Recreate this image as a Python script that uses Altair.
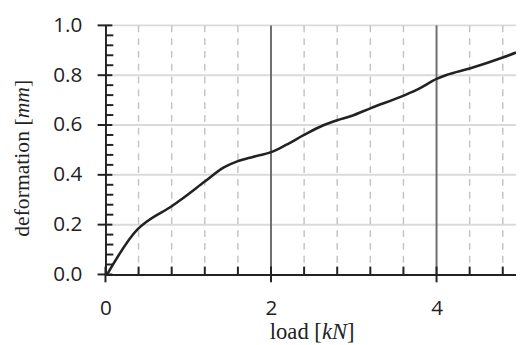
import altair as alt
import pandas as pd

# ---- data ----
load_kn = [0.02, 0.39, 0.51, 0.80, 0.91, 1.20, 1.43, 1.60, 1.78, 2.00, 2.18, 2.40,
           2.62, 2.80, 2.97, 3.20, 3.61, 3.79, 4.00, 4.12, 4.40, 4.80, 4.96]
deformation_mm = [0.0, 0.182, 0.215, 0.274, 0.300, 0.373, 0.430, 0.455, 0.472, 0.491,
                  0.520, 0.560, 0.597, 0.619, 0.636, 0.667, 0.719, 0.746, 0.785, 0.801,
                  0.827, 0.871, 0.891]

x_major = [0, 2, 4]
x_minor = [0.4, 0.8, 1.2, 1.6, 2.4, 2.8, 3.2, 3.6, 4.4, 4.8]
y_major = [0.0, 0.2, 0.4, 0.6, 0.8, 1.0]
y_minor = [0.04, 0.08, 0.12, 0.16, 0.24, 0.28, 0.32, 0.36, 0.44, 0.48, 0.52, 0.56,
           0.64, 0.68, 0.72, 0.76, 0.84, 0.88, 0.92, 0.96]
y_grid = [0.2, 0.4, 0.6, 0.8, 1.0]

W, H = 417, 253
X_DOMAIN = [0, 4.96]
Y_DOMAIN = [0, 1.0]

curve = pd.DataFrame({"load": load_kn, "deformation": deformation_mm})
xs = alt.Scale(domain=X_DOMAIN, nice=False, zero=False)
ys = alt.Scale(domain=Y_DOMAIN, nice=False)

TICK_FONT = "Open Sans"
SERIF = "Liberation Serif"
DARK = "#222222"

XAX = alt.Axis(values=x_major, grid=False, ticks=False, domain=True,
               domainColor=DARK, domainWidth=2, labelFont=TICK_FONT,
               labelFontSize=21, labelColor=DARK, labelPadding=24,
               labelFlush=False, title=None, zindex=1, format="d")
YAX = alt.Axis(values=y_major, grid=False, ticks=False, domain=True,
               domainColor=DARK, domainWidth=2, labelFont=TICK_FONT,
               labelFontSize=21, labelColor=DARK, labelPadding=24,
               labelFlush=False, title=None, zindex=1, format=".1f")


def frame(name, vals):
    return pd.DataFrame({name: vals})


def X(f):
    return alt.X(f, type="quantitative", scale=xs, axis=XAX)


def Y(f):
    return alt.Y(f, type="quantitative", scale=ys, axis=YAX)


# grid
hgrid = alt.Chart(frame("v", y_grid)).mark_rule(color="#dadada", strokeWidth=2).encode(y=Y("v"))
vdash = alt.Chart(frame("v", x_minor)).mark_rule(color="#c4c4c4", strokeWidth=1.5,
                                                strokeDash=[7, 6]).encode(x=X("v"))
vmajor = alt.Chart(frame("v", [2, 4])).mark_rule(color="#6e6e6e", strokeWidth=2).encode(x=X("v"))

# main curve
line = alt.Chart(curve).mark_line(color=DARK, strokeWidth=2.6, interpolate="monotone").encode(
    x=X("load"), y=Y("deformation"))

# ticks
xmaj_t = alt.Chart(frame("v", x_major)).mark_rule(color=DARK, strokeWidth=2).encode(
    x=X("v"), y=alt.value(H - 8), y2=alt.value(H + 8))
xmin_t = alt.Chart(frame("v", x_minor)).mark_rule(color=DARK, strokeWidth=2).encode(
    x=X("v"), y=alt.value(H - 8), y2=alt.value(H))
ymaj_t = alt.Chart(frame("v", y_major)).mark_rule(color=DARK, strokeWidth=2).encode(
    y=Y("v"), x=alt.value(-8), x2=alt.value(7))
ymin_t = alt.Chart(frame("v", y_minor)).mark_rule(color=DARK, strokeWidth=2).encode(
    y=Y("v"), x=alt.value(0), x2=alt.value(8))

# titles with italic units (Times-compatible widths, per em)
REG = {"l": .278, "o": .5, "a": .444, "d": .5, " ": .25, "[": .333, "]": .333,
       "e": .444, "f": .333, "r": .333, "m": .778, "t": .278, "i": .278, "n": .5}
ITA = {"k": .444, "N": .667, "m": .722}


def em(s, italic, fs):
    tbl = ITA if italic else REG
    return sum(tbl[c] for c in s) * fs


one = pd.DataFrame({"d": [0]})


def piece(txt, italic, fs, **kw):
    return alt.Chart(one).mark_text(text=txt, font=SERIF, fontSize=fs, color=DARK,
                                    fontStyle="italic" if italic else "normal",
                                    align="left", **kw)


XFS = 23
xparts = [("load [", False), ("kN", True), ("]", False)]
xW = sum(em(t, i, XFS) for t, i in xparts)
x0 = 210 - xW / 2
xt_layers = []
for t, i in xparts:
    xt_layers.append(piece(t, i, XFS, baseline="alphabetic").encode(
        x=alt.value(x0), y=alt.value(H + 66)))
    x0 += em(t, i, XFS)

YFS = 22
yparts = [("deformation [", False), ("mm", True), ("]", False)]
yW = sum(em(t, i, YFS) for t, i in yparts)
y0 = 135 + yW / 2
yt_layers = []
for t, i in yparts:
    yt_layers.append(piece(t, i, YFS, baseline="middle", angle=270).encode(
        x=alt.value(-85), y=alt.value(y0)))
    y0 -= em(t, i, YFS)

chart = alt.layer(hgrid, vdash, vmajor, line, xmaj_t, xmin_t, ymaj_t, ymin_t,
                  *xt_layers, *yt_layers).properties(
    width=W, height=H,
    autosize=alt.AutoSizeParams(type="none"),
    padding={"left": 99, "top": 15, "right": 0, "bottom": 69},
).configure_view(stroke=None)

chart.save("out.html", embed_options={"renderer": "svg", "actions": False})
